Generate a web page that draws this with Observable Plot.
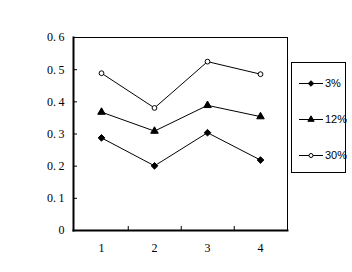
<!DOCTYPE html>
<html><head><meta charset="utf-8">
<script src="https://cdn.jsdelivr.net/npm/d3@7"></script>
<script src="https://cdn.jsdelivr.net/npm/@observablehq/plot@0.6"></script>
<style>
body{margin:0;background:#fff;}
#wrap{position:relative;width:352px;height:272px;overflow:hidden;}
#legend{position:absolute;left:291px;top:62px;width:53px;height:109px;border:1px solid #000;box-sizing:content-box;}
.item{position:absolute;left:6px;height:12px;display:flex;align-items:center;font:11px "Liberation Sans",Arial,sans-serif;color:#000;}
.item svg{margin-right:1px;}
</style></head>
<body><div id="wrap"><div id="legend"></div></div>
<script>
const categories = [1, 2, 3, 4];
const seriesNames = ["3%", "12%", "30%"];
const s3 = [0.288, 0.201, 0.304, 0.219];
const s12 = [0.368, 0.309, 0.389, 0.354];
const s30 = [0.489, 0.381, 0.525, 0.486];
const yTicks = [0, 0.1, 0.2, 0.3, 0.4, 0.5, 0.6];
const symbols = ["diamond2", "triangle", "circle"];
const fills = ["black", "black", "white"];
const sizes = [3, 2.8, 2.4];

const allValues = [s3, s12, s30];
const rows = [];
allValues.forEach((vals, si) => vals.forEach((v, i) => rows.push({x: categories[i], y: v, s: seriesNames[si], si})));

const W = 352, H = 272, ml = 73, mr = 65, mt = 37, mb = 42;
const half = (W - ml - mr) / categories.length / 2;

const marks = [
  Plot.frame({stroke: "black", strokeWidth: 1}),
  Plot.frame({anchor: "left", stroke: "black", strokeWidth: 2}),
  Plot.frame({anchor: "bottom", stroke: "black", strokeWidth: 2}),
  Plot.axisY({ticks: yTicks, label: null, tickSize: 0, tickPadding: 9, tickFormat: d => d === 0 ? "0" : d3.format(".1f")(d).replace(".", ".\u2009"), fontSize: 12, fontFamily: "Liberation Serif, serif", fill: "black"}),
  Plot.axisY({ticks: yTicks, label: null, text: null, tickSize: 4, dx: 4, stroke: "black"}),
  Plot.axisX({ticks: categories, label: null, tickSize: 0, tickPadding: 13, fontSize: 12, fontFamily: "Liberation Serif, serif", fill: "black"}),
  Plot.axisX({ticks: categories.slice(0, -1), label: null, text: null, tickSize: 4, dx: half, dy: -4, stroke: "black"})
];
seriesNames.forEach((name, si) => {
  const d = rows.filter(r => r.si === si);
  marks.push(Plot.line(d, {x: "x", y: "y", stroke: "black", strokeWidth: 1}));
  marks.push(Plot.dot(d, {x: "x", y: "y", symbol: () => symbols[si], r: sizes[si], fill: fills[si], stroke: "black", strokeWidth: 1}));
});

const chart = Plot.plot({
  width: W, height: H,
  marginLeft: ml, marginRight: mr, marginTop: mt, marginBottom: mb,
  style: {background: "white", color: "black", overflow: "visible"},
  x: {type: "point", domain: categories, padding: 0.5, axis: null, label: null},
  y: {domain: [0, 0.6], axis: null, label: null},
  symbol: {type: "identity"},
  marks
});
document.getElementById("wrap").prepend(chart);

// legend
const leg = document.getElementById("legend");
const tops = [14, 50, 86];
seriesNames.forEach((name, si) => {
  const it = document.createElement("div");
  it.className = "item";
  it.style.top = tops[si] + "px";
  const svg = d3.create("svg").attr("width", 26).attr("height", 12);
  svg.append("line").attr("x1", 1).attr("x2", 25).attr("y1", 6.5).attr("y2", 6.5).attr("stroke", "black");
  const symType = {diamond2: d3.symbolDiamond2, triangle: d3.symbolTriangle, circle: d3.symbolCircle}[symbols[si]];
  const area = Math.PI * sizes[si] * sizes[si] * 0.7;
  svg.append("path").attr("d", d3.symbol(symType, area)()).attr("transform", "translate(13,6.5)")
    .attr("fill", fills[si]).attr("stroke", "black");
  it.appendChild(svg.node());
  const t = document.createElement("span");
  t.textContent = name;
  it.appendChild(t);
  leg.appendChild(it);
});
</script></body></html>
